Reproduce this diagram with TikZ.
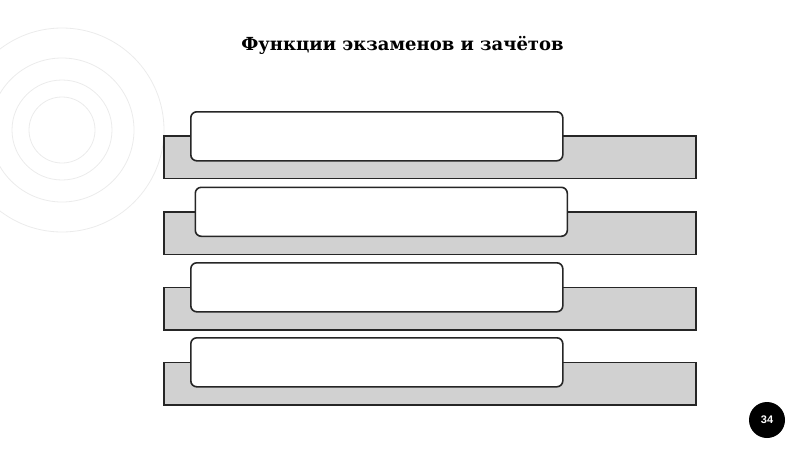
\documentclass[tikz,border=0pt]{standalone}
\usepackage{fontspec}
\setmainfont{DejaVu Serif}
\newfontfamily\numfont{Liberation Sans}
\usepackage{tikz}
\usetikzlibrary{calc, positioning}

\begin{document}
\begin{tikzpicture}[x=1pt, y=-1pt,
  ring/.style={draw=black!8, line width=0.8pt},
  bar/.style={draw=black!85, fill=black!18, line width=1.6pt, rectangle, inner sep=0pt,
    minimum width=532pt, minimum height=42.5pt, anchor=north west},
  card/.style={draw=black!85, fill=white, line width=1.6pt, rectangle, rounded corners=6pt,
    inner sep=0pt, minimum width=372pt, minimum height=49pt, anchor=north west}]
\useasboundingbox (0,0) rectangle (800,450);
\draw[ring] (62,130) circle (33pt);
\draw[ring] (62,130) circle (50pt);
\draw[ring] (62,130) circle (72pt);
\draw[ring] (62,130) circle (102pt);
\node[anchor=base, font=\bfseries\fontsize{18}{21}\selectfont] (title) at (402.5,50) {Функции экзаменов и зачётов};
\node[bar] (bar1) at (163,135) {};
\node[card] (card1) at (190,111) {};
\node[bar] (bar2) at (163,211) {};
\node[card] (card2) at (194.5,186.5) {};
\node[bar] (bar3) at (163,286.5) {};
\node[card] (card3) at (190,262) {};
\node[bar] (bar4) at (163,361.5) {};
\node[card] (card4) at (190,337) {};
\node[circle, fill=black, minimum size=36pt, inner sep=0pt, text=white,
  font=\numfont\bfseries\fontsize{11}{12}\selectfont] (page) at (767,420) {34};
\end{tikzpicture}
\end{document}
